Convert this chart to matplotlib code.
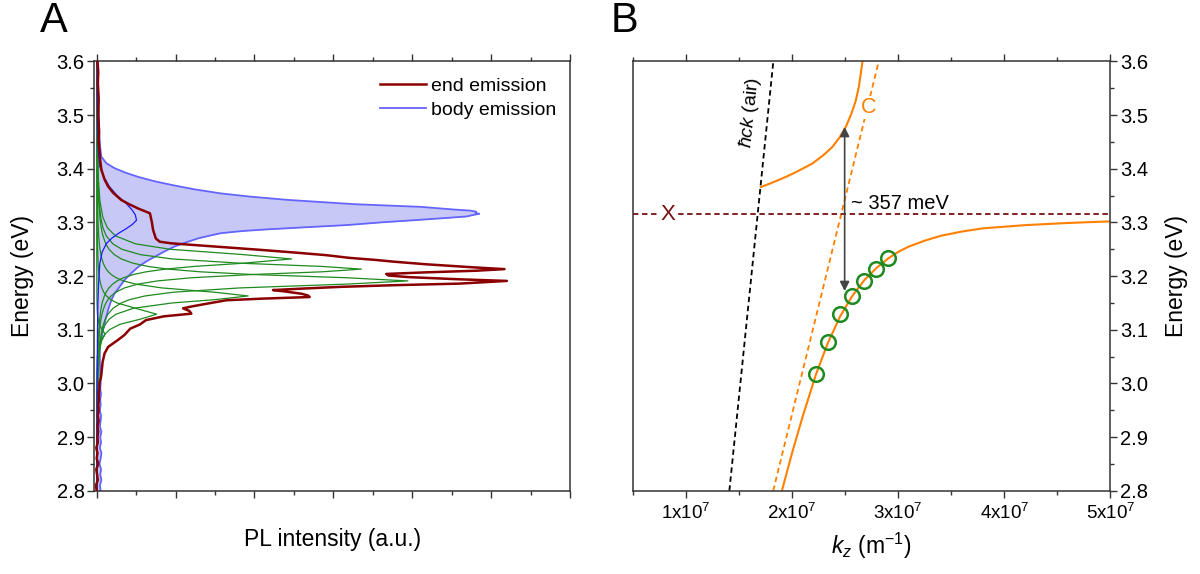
import matplotlib
matplotlib.use('Agg')
from matplotlib import pyplot as plt
from matplotlib.ticker import MultipleLocator, FixedLocator, FixedFormatter

plt.rcParams['font.family'] = ['Liberation Sans', 'DejaVu Sans']
plt.rcParams['mathtext.fontset'] = 'custom'
plt.rcParams['mathtext.rm'] = 'Liberation Sans'
plt.rcParams['mathtext.it'] = 'Liberation Sans:italic'
plt.rcParams['axes.linewidth'] = 1.1
plt.rcParams['axes.edgecolor'] = '#333333'

# ---------------- panel A: PL spectra (energy in eV, intensity in a.u.) ----------------
end_energy = [2.80, 2.81, 2.82, 2.83, 2.84, 2.85, 2.86, 2.87, 2.88, 2.89, 2.90, 2.91, 2.92, 2.93,
              2.94, 2.95, 2.96, 2.97, 2.98, 2.99, 3.00, 3.012, 3.025, 3.04, 3.056, 3.068, 3.08,
              3.09, 3.102, 3.11, 3.118, 3.125, 3.130, 3.135, 3.140, 3.144, 3.150, 3.155, 3.158,
              3.161, 3.164, 3.167, 3.171, 3.174, 3.177, 3.180, 3.183, 3.186, 3.191, 3.194, 3.198,
              3.201, 3.204, 3.207, 3.210, 3.213, 3.216, 3.222, 3.227, 3.230, 3.234, 3.239, 3.244,
              3.249, 3.254, 3.258, 3.261, 3.264, 3.270, 3.286, 3.300, 3.317, 3.326, 3.334, 3.342,
              3.355, 3.367, 3.380, 3.398, 3.415, 3.435, 3.45, 3.47, 3.50, 3.53, 3.56, 3.58, 3.60]
end_intensity = [0.00, -0.02, 0.03, 0.01, -0.01, 0.04, 0.00, 0.02, -0.01, 0.03, 0.02, 0.04, 0.02, 0.05,
                 0.03, 0.05, 0.04, 0.06, 0.05, 0.07, 0.07, 0.11, 0.13, 0.15, 0.20, 0.29, 0.52,
                 0.70, 0.85, 1.10, 1.25, 1.70, 2.40, 2.35, 2.19, 2.45, 2.90, 3.29, 4.20,
                 5.40, 5.35, 5.20, 4.81, 4.47, 5.30, 6.20, 7.51, 9.20, 10.40, 9.20, 7.93,
                 7.40, 7.34, 8.35, 9.62, 10.34, 9.62, 8.35, 7.51, 7.09, 6.40, 5.82, 5.00,
                 4.13, 3.20, 2.45, 1.90, 1.60, 1.50, 1.43, 1.40, 1.35, 1.05, 0.82, 0.62,
                 0.42, 0.29, 0.20, 0.12, 0.09, 0.07, 0.05, 0.06, 0.04, 0.05, 0.03, 0.04, 0.02]

body_energy = [2.80, 2.81, 2.82, 2.83, 2.84, 2.85, 2.86, 2.87, 2.88, 2.89, 2.90, 2.91, 2.92, 2.93,
               2.94, 2.95, 2.96, 2.97, 2.98, 2.99, 3.00, 3.02, 3.04, 3.068, 3.085, 3.099, 3.118,
               3.137, 3.155, 3.168, 3.180, 3.193, 3.205, 3.217, 3.227, 3.236, 3.246, 3.255, 3.263,
               3.270, 3.276, 3.280, 3.284, 3.287, 3.291, 3.295, 3.300, 3.304, 3.308, 3.311, 3.314,
               3.316, 3.318, 3.320, 3.322, 3.324, 3.329, 3.334, 3.342, 3.348, 3.354, 3.362, 3.370,
               3.377, 3.385, 3.393, 3.401, 3.410, 3.4225, 3.44, 3.46, 3.48, 3.50, 3.53, 3.56, 3.60]
body_intensity = [0.10, 0.08, 0.12, 0.09, 0.11, 0.07, 0.10, 0.12, 0.08, 0.11, 0.09, 0.12, 0.08, 0.10,
                  0.11, 0.08, 0.10, 0.09, 0.11, 0.09, 0.10, 0.09, 0.08, 0.08, 0.12, 0.16, 0.22,
                  0.29, 0.37, 0.456, 0.58, 0.71, 0.87, 1.05, 1.25, 1.47, 1.72, 1.97, 2.27,
                  2.56, 2.90, 3.15, 3.70, 4.30, 5.30, 6.33, 7.20, 8.02, 8.80, 9.37, 9.55,
                  9.70, 9.60, 9.62, 9.48, 9.06, 8.22, 6.53, 4.84, 3.90, 3.15, 2.45, 1.89,
                  1.45, 1.046, 0.72, 0.456, 0.25, 0.117, 0.09, 0.07, 0.06, 0.05, 0.04, 0.03, 0.02]

# single-peak fit of the body emission
body_fit_energy = [2.80, 3.00, 3.10, 3.15, 3.19, 3.224, 3.245, 3.261, 3.271, 3.280, 3.288, 3.296,
                   3.304, 3.314, 3.323, 3.336, 3.350, 3.367, 3.385, 3.404, 3.43, 3.48, 3.54, 3.60]
body_fit_intensity = [0.005, 0.01, 0.02, 0.03, 0.05, 0.08, 0.14, 0.25, 0.39, 0.56, 0.74, 0.90,
                      1.01, 0.98, 0.90, 0.74, 0.52, 0.32, 0.18, 0.08, 0.04, 0.02, 0.01, 0.01]

# Lorentzian components of the end emission fit, on a common energy grid
fit_energy = [2.80, 2.90, 2.98, 3.02, 3.05, 3.07, 3.08, 3.092, 3.10, 3.11, 3.12, 3.129, 3.14,
              3.15, 3.156, 3.163, 3.17, 3.178, 3.185, 3.191, 3.197, 3.203, 3.208, 3.213, 3.218,
              3.224, 3.232, 3.24, 3.25, 3.26, 3.275, 3.29, 3.31, 3.34, 3.38, 3.43, 3.50, 3.60]
peak_3232 = [0.005, 0.009, 0.015, 0.022, 0.029, 0.037, 0.042, 0.049, 0.055, 0.064, 0.076, 0.090, 0.112,
             0.140, 0.162, 0.195, 0.240, 0.311, 0.403, 0.516, 0.681, 0.934, 1.254, 1.739, 2.47,
             3.72, 4.94, 3.72, 1.864, 0.988, 0.474, 0.272, 0.154, 0.082, 0.044, 0.025, 0.014, 0.007]
peak_3213 = [0.006, 0.010, 0.018, 0.026, 0.036, 0.047, 0.054, 0.065, 0.075, 0.090, 0.110, 0.134, 0.177,
             0.235, 0.284, 0.365, 0.485, 0.706, 1.042, 1.539, 2.414, 3.961, 5.716, 6.71, 5.716,
             3.647, 1.912, 1.107, 0.638, 0.411, 0.242, 0.159, 0.101, 0.059, 0.035, 0.021, 0.012, 0.006]
peak_3191 = [0.007, 0.013, 0.026, 0.039, 0.057, 0.077, 0.091, 0.114, 0.135, 0.169, 0.219, 0.285, 0.414,
             0.623, 0.830, 1.225, 1.943, 3.636, 6.312, 7.89, 6.312, 3.945, 2.621, 1.810, 1.302,
             0.922, 0.623, 0.447, 0.313, 0.231, 0.158, 0.114, 0.080, 0.051, 0.032, 0.020, 0.012, 0.007]
peak_3163 = [0.005, 0.009, 0.019, 0.032, 0.050, 0.074, 0.092, 0.125, 0.157, 0.218, 0.322, 0.490, 0.930,
             1.92, 2.977, 3.84, 2.977, 1.648, 0.995, 0.681, 0.490, 0.367, 0.296, 0.243, 0.203,
             0.167, 0.132, 0.106, 0.084, 0.068, 0.051, 0.040, 0.030, 0.021, 0.014, 0.009, 0.006, 0.003]
peak_3129 = [0.003, 0.007, 0.015, 0.028, 0.053, 0.092, 0.130, 0.215, 0.321, 0.584, 1.118, 1.52, 0.988,
             0.514, 0.358, 0.248, 0.179, 0.130, 0.102, 0.084, 0.070, 0.060, 0.053, 0.047, 0.042,
             0.037, 0.032, 0.027, 0.023, 0.020, 0.016, 0.013, 0.010, 0.008, 0.005, 0.004, 0.003, 0.002]
peak_3092 = [0.000, 0.001, 0.002, 0.006, 0.016, 0.049, 0.105, 0.21, 0.145, 0.065, 0.033, 0.020, 0.012,
             0.009, 0.007, 0.006, 0.005, 0.004, 0.004, 0.003, 0.003, 0.003, 0.003, 0.002, 0.002,
             0.002, 0.002, 0.002, 0.002, 0.002, 0.001, 0.001, 0.001, 0.001, 0.001, 0.001, 0.001, 0.001]
fit_components = [peak_3232, peak_3213, peak_3191, peak_3163, peak_3129, peak_3092]

# ---------------- panel B: dispersion (k in 1/m, energy in eV) ----------------
light_air_k = [1.41e7, 1.824e7]
light_air_energy = [2.80, 3.60]
cavity_k = [1.823e7, 2.817e7]
cavity_energy = [2.80, 3.60]
exciton_energy = 3.315

lower_k = [1.905e7, 2.00e7, 2.10e7, 2.226e7, 2.339e7, 2.451e7, 2.564e7, 2.679e7, 2.795e7, 2.907e7,
           3.00e7, 3.10e7, 3.25e7, 3.40e7, 3.60e7, 3.80e7, 4.20e7, 4.60e7, 5.00e7]
lower_energy = [2.800, 2.870, 2.938, 3.017, 3.076, 3.124, 3.162, 3.192, 3.215, 3.233,
                3.245, 3.255, 3.266, 3.275, 3.283, 3.289, 3.295, 3.299, 3.302]
upper_k = [1.707e7, 1.80e7, 1.944e7, 2.05e7, 2.194e7, 2.30e7, 2.382e7, 2.45e7, 2.507e7, 2.56e7,
           2.601e7, 2.63e7, 2.664e7]
upper_energy = [3.366, 3.373, 3.385, 3.395, 3.410, 3.426, 3.441, 3.459, 3.478, 3.503,
                3.527, 3.553, 3.600]
mode_k = [2.226e7, 2.339e7, 2.451e7, 2.564e7, 2.679e7, 2.795e7, 2.907e7]
mode_energy = [3.017, 3.078, 3.129, 3.162, 3.191, 3.213, 3.2335]
split_k = 2.496e7
split_energy = [3.478, 3.172]

k_ticks = [1e7, 2e7, 3e7, 4e7, 5e7]
k_tick_labels = ['1x10$^7$', '2x10$^7$', '3x10$^7$', '4x10$^7$', '5x10$^7$']

red = '#8b0000'
blue_edge = '#6464ff'
blue_fill = '#c8c8f7'
green = '#1f8a1f'
orange = '#ff8000'

fig = plt.figure(figsize=(12, 5.74), dpi=100)
axA = fig.add_axes([0.0786, 0.145, 0.3964, 0.748])
axB = fig.add_axes([0.5273, 0.145, 0.3981, 0.748])

# ---- A ----
axA.fill_betweenx(body_energy, 0, body_intensity, color=blue_fill, lw=0, zorder=1)
axA.plot(body_intensity, body_energy, color=blue_edge, lw=1.3, zorder=2, label='body emission')
for comp in fit_components:
    axA.plot(comp, fit_energy, color=green, lw=0.9, zorder=3)
axA.plot(body_fit_intensity, body_fit_energy, color='#1a1aff', lw=0.9, zorder=3)
axA.plot(end_intensity, end_energy, color=red, lw=1.8, zorder=4, label='end emission')

axA.set_xlim(-0.06, 12)
axA.set_ylim(2.8, 3.6)
axA.xaxis.set_major_locator(MultipleLocator(2))
axA.xaxis.set_minor_locator(MultipleLocator(1))
axA.yaxis.set_major_locator(MultipleLocator(0.1))
axA.yaxis.set_minor_locator(MultipleLocator(0.05))
axA.yaxis.set_major_formatter(plt.FormatStrFormatter('%.1f'))
axA.tick_params(which='both', direction='out', top=True, bottom=True, left=True, right=False,
                labelbottom=False, labelsize=14.5, color='#333333', pad=2)
axA.tick_params(which='major', length=5, width=1.0)
axA.tick_params(which='minor', length=3, width=1.0)
axA.set_xlabel('PL intensity (a.u.)', fontsize=16.5, labelpad=22)
axA.set_ylabel('Energy (eV)', fontsize=16.5, labelpad=16)

handles, labels = axA.get_legend_handles_labels()
axA.legend(handles[::-1], labels[::-1], loc='upper right', frameon=False, fontsize=14,
           handlelength=2.4, handletextpad=0.25, labelspacing=0.35,
           borderaxespad=0.3, bbox_to_anchor=(1.0, 0.995))

# ---- B ----
axB.plot(light_air_k, light_air_energy, color='black', lw=1.3, ls=(0, (3, 2)))
axB.plot(cavity_k, cavity_energy, color=orange, lw=1.3, ls=(0, (3, 2)))
axB.axhline(exciton_energy, color='#7a1010', lw=1.3, ls=(0, (3, 2)))
axB.plot(lower_k, lower_energy, color=orange, lw=1.5)
axB.plot(upper_k, upper_energy, color=orange, lw=1.5)
axB.plot(mode_k, mode_energy, 'o', ms=10.5, mfc='none', mec=green, mew=1.8, zorder=5)
axB.annotate('', xy=(split_k, split_energy[1]), xytext=(split_k, split_energy[0]),
             arrowprops=dict(arrowstyle='<|-|>', color='#444444', lw=1.2,
                             mutation_scale=14, shrinkA=0, shrinkB=0))
axB.text(2.56e7, 3.336, '~ 357 meV', fontsize=14.5, ha='left', va='center')
axB.text(0.83e7, exciton_energy, 'X', color='#7a1010', fontsize=16, ha='center', va='center',
         bbox=dict(facecolor='white', edgecolor='none', pad=1))
axB.text(2.726e7, 3.514, 'C', color=orange, fontsize=15.5, ha='center', va='center',
         bbox=dict(facecolor='white', edgecolor='none', pad=1))
axB.text(1.605e7, 3.505, r'$\hbar ck$ (air)', fontsize=14, rotation=84,
         ha='center', va='center', rotation_mode='anchor')

axB.set_xlim(0.5e7, 5e7)
axB.set_ylim(2.8, 3.6)
axB.xaxis.set_major_locator(FixedLocator(k_ticks))
axB.xaxis.set_major_formatter(FixedFormatter(k_tick_labels))
axB.xaxis.set_minor_locator(MultipleLocator(0.5e7))
axB.yaxis.set_major_locator(MultipleLocator(0.1))
axB.yaxis.set_minor_locator(MultipleLocator(0.05))
axB.yaxis.set_major_formatter(plt.FormatStrFormatter('%.1f'))
axB.yaxis.set_label_position('right')
axB.tick_params(which='both', direction='out', top=True, bottom=True, left=False, right=True,
                labelleft=False, labelright=True, labelsize=13.5, color='#333333')
axB.tick_params(axis='y', labelsize=14.5, pad=2)
axB.tick_params(which='major', length=5, width=1.0)
axB.tick_params(which='minor', length=3, width=1.0)
axB.set_xlabel('$k_z$ (m$^{-1}$)', fontsize=16.5, labelpad=6)
axB.set_ylabel('Energy (eV)', fontsize=16.5, labelpad=12)

fig.text(0.033, 0.998, 'A', fontsize=30, ha='left', va='top')
fig.text(0.509, 0.998, 'B', fontsize=30, ha='left', va='top')

plt.savefig('out.png', dpi=100)
plt.close(fig)
